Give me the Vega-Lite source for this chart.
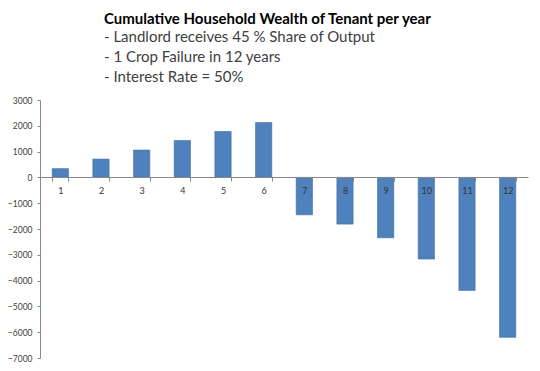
{
  "$schema": "https://vega.github.io/schema/vega-lite/v6.json",
  "width": 488,
  "height": 258,
  "autosize": "none",
  "padding": {"left": 40, "top": 100, "right": 12, "bottom": 13},
  "background": "white",
  "title": {
    "text": "Cumulative Household Wealth of Tenant per year",
    "subtitle": ["- Landlord receives 45 % Share of Output", "- 1 Crop Failure in 12 years", "- Interest Rate = 50%"],
    "anchor": "start",
    "frame": "group",
    "dx": 64,
    "offset": 11,
    "font": "Lato",
    "fontSize": 15,
    "fontWeight": "bold",
    "color": "#000000",
    "subtitleFont": "Lato",
    "subtitleFontSize": 15,
    "subtitleColor": "#404040",
    "subtitleLineHeight": 20,
    "subtitlePadding": 3
  },
  "data": {
    "values": [
      {"year": "1", "wealth": 340},
      {"year": "2", "wealth": 710},
      {"year": "3", "wealth": 1060},
      {"year": "4", "wealth": 1430},
      {"year": "5", "wealth": 1780},
      {"year": "6", "wealth": 2130},
      {"year": "7", "wealth": -1450},
      {"year": "8", "wealth": -1810},
      {"year": "9", "wealth": -2340},
      {"year": "10", "wealth": -3165},
      {"year": "11", "wealth": -4380},
      {"year": "12", "wealth": -6200}
    ]
  },
  "mark": {"type": "bar", "color": "#4F81BD", "stroke": "#3E6CA3", "strokeWidth": 0.6},
  "encoding": {
    "x": {
      "field": "year",
      "type": "ordinal",
      "sort": null,
      "scale": {"paddingInner": 0.6, "paddingOuter": 0.3},
      "axis": {
        "title": null,
        "offset": -181,
        "zindex": 1,
        "labelAngle": 0,
        "labelFont": "Lato",
        "labelFontSize": 9,
        "labelColor": "#333333",
        "labelPadding": 5,
        "domainColor": "#888888",
        "tickColor": "#888888",
        "tickSize": 4,
        "tickBand": "extent",
        "ticks": true
      }
    },
    "y": {
      "field": "wealth",
      "type": "quantitative",
      "scale": {"domain": [-7000, 3000], "nice": false},
      "axis": {
        "title": null,
        "values": [3000, 2000, 1000, 0, -1000, -2000, -3000, -4000, -5000, -6000, -7000],
        "format": "d",
        "grid": false,
        "labelFont": "Lato",
        "labelFontSize": 8.5,
        "labelColor": "#404040",
        "labelPadding": 5,
        "domainColor": "#888888",
        "tickColor": "#888888",
        "tickSize": 3
      }
    }
  },
  "config": {"view": {"stroke": null}}
}
